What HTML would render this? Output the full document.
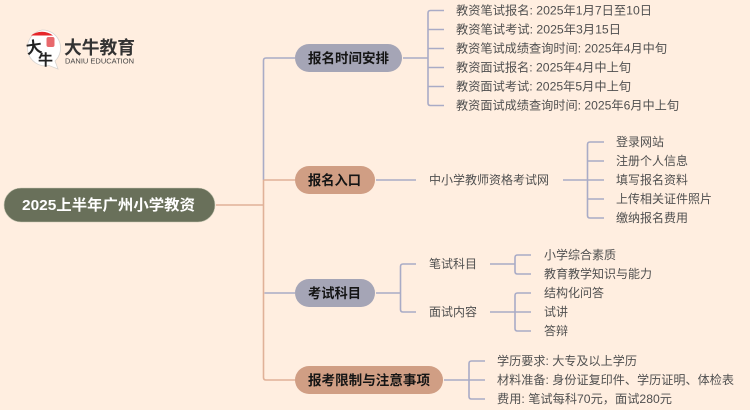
<!DOCTYPE html>
<html lang="zh">
<head>
<meta charset="utf-8">
<title>2025上半年广州小学教资</title>
<style>
html,body{margin:0;padding:0;background:#ffeee0;width:750px;height:410px;overflow:hidden}
svg{display:block;filter:blur(0.3px)}
text{font-family:"Liberation Sans","Noto Sans CJK SC",sans-serif}
.t{font-size:12px;fill:#505050}
.b{font-size:13.5px;font-weight:700;fill:#151515}
.g{fill:none;stroke:#a9abc6;stroke-width:1.6}
.o{fill:none;stroke:#e0b198;stroke-width:1.6}
</style>
</head>
<body>
<svg width="750" height="410" viewBox="0 0 750 410" xmlns="http://www.w3.org/2000/svg">
<rect width="750" height="410" fill="#ffeee0"/>

<!-- trunk -->
<path class="g" d="M295 58H266Q263.500 58 263.500 60.500V180"/>
<path class="o" d="M216 205H263.500M295 180H263.500M263.500 180V377.500Q263.500 380 266 380H295"/>
<path class="g" d="M295 293H264.500"/>

<!-- root -->
<rect x="4" y="188" width="211" height="34" rx="17" fill="#69705a" stroke="#c9c8b4" stroke-width="0.6"/>
<text x="22" y="210" font-size="15" font-weight="700" fill="#fff" textLength="173" lengthAdjust="spacingAndGlyphs">2025上半年广州小学教资</text>

<!-- branch nodes -->
<rect x="295" y="44" width="107" height="28" rx="14" fill="#a5a5b6"/>
<text class="b" x="308" y="63" textLength="81" lengthAdjust="spacingAndGlyphs">报名时间安排</text>
<rect x="295" y="166" width="80" height="28" rx="14" fill="#d09e84"/>
<text class="b" x="308" y="185" textLength="53" lengthAdjust="spacingAndGlyphs">报名入口</text>
<rect x="295" y="279" width="80" height="28" rx="14" fill="#a5a5b6"/>
<text class="b" x="308" y="298" textLength="53" lengthAdjust="spacingAndGlyphs">考试科目</text>
<rect x="295" y="366" width="148" height="28" rx="14" fill="#d09e84"/>
<text class="b" x="308" y="385" textLength="122" lengthAdjust="spacingAndGlyphs">报考限制与注意事项</text>

<!-- group 1 connectors -->
<path class="g" d="M403 58H428M444 10.500H430.500Q428 10.500 428 13V103Q428 105.500 430.500 105.500H444M428 29.500H444M428 48.500H444M428 67.500H444M428 86.500H444"/>
<text class="t" x="456" y="14.500" textLength="196" lengthAdjust="spacingAndGlyphs">教资笔试报名: 2025年1月7日至10日</text>
<text class="t" x="456" y="33.500" textLength="165" lengthAdjust="spacingAndGlyphs">教资笔试考试: 2025年3月15日</text>
<text class="t" x="456" y="52.500" textLength="211" lengthAdjust="spacingAndGlyphs">教资笔试成绩查询时间: 2025年4月中旬</text>
<text class="t" x="456" y="71.500" textLength="175" lengthAdjust="spacingAndGlyphs">教资面试报名: 2025年4月中上旬</text>
<text class="t" x="456" y="90.500" textLength="175" lengthAdjust="spacingAndGlyphs">教资面试考试: 2025年5月中上旬</text>
<text class="t" x="456" y="109.500" textLength="223" lengthAdjust="spacingAndGlyphs">教资面试成绩查询时间: 2025年6月中上旬</text>

<!-- group 2 connectors -->
<path class="g" d="M376 180H416M563 180H604M604 142H590Q587.500 142 587.500 144.500V215.500Q587.500 218 590 218H604M587.500 161H604M587.500 199H604"/>
<text class="t" x="429" y="184" textLength="120" lengthAdjust="spacingAndGlyphs">中小学教师资格考试网</text>
<text class="t" x="616" y="146" textLength="48" lengthAdjust="spacingAndGlyphs">登录网站</text>
<text class="t" x="616" y="165" textLength="72" lengthAdjust="spacingAndGlyphs">注册个人信息</text>
<text class="t" x="616" y="184" textLength="72" lengthAdjust="spacingAndGlyphs">填写报名资料</text>
<text class="t" x="616" y="203" textLength="96" lengthAdjust="spacingAndGlyphs">上传相关证件照片</text>
<text class="t" x="616" y="222" textLength="72" lengthAdjust="spacingAndGlyphs">缴纳报名费用</text>

<!-- group 3 connectors -->
<path class="g" d="M376 293H400.500M416 264H403Q400.500 264 400.500 266.500V309.500Q400.500 312 403 312H416"/>
<text class="t" x="429" y="268" textLength="48" lengthAdjust="spacingAndGlyphs">笔试科目</text>
<text class="t" x="429" y="316" textLength="48" lengthAdjust="spacingAndGlyphs">面试内容</text>
<path class="g" d="M490 264H515M531 255H517.500Q515 255 515 257.500V271.500Q515 274 517.500 274H531"/>
<text class="t" x="544" y="259" textLength="72" lengthAdjust="spacingAndGlyphs">小学综合素质</text>
<text class="t" x="544" y="278" textLength="108" lengthAdjust="spacingAndGlyphs">教育教学知识与能力</text>
<path class="g" d="M490 312H531M531 293H517.500Q515 293 515 295.500V328.500Q515 331 517.500 331H531"/>
<text class="t" x="544" y="297" textLength="60" lengthAdjust="spacingAndGlyphs">结构化问答</text>
<text class="t" x="544" y="316" textLength="24" lengthAdjust="spacingAndGlyphs">试讲</text>
<text class="t" x="544" y="335" textLength="24" lengthAdjust="spacingAndGlyphs">答辩</text>

<!-- group 4 connectors -->
<path class="g" d="M444 380H485M485 361H471.500Q469 361 469 363.500V396.500Q469 399 471.500 399H485"/>
<text class="t" x="497" y="365" textLength="140" lengthAdjust="spacingAndGlyphs">学历要求: 大专及以上学历</text>
<text class="t" x="497" y="384" textLength="237" lengthAdjust="spacingAndGlyphs">材料准备: 身份证复印件、学历证明、体检表</text>
<text class="t" x="497" y="403" textLength="175" lengthAdjust="spacingAndGlyphs">费用: 笔试每科70元，面试280元</text>

<!-- logo -->
<path d="M42 30A18 18 0 0 1 55 61L58 69L49 65.500A18 18 0 1 1 42 30Z" fill="#fff" stroke="#d8d4d0" stroke-width="0.8"/>
<path d="M31 35.500A18 18 0 0 1 53 35.500Z" fill="#e6262a"/>
<rect x="46.500" y="37" width="8" height="10" rx="2" fill="#e8686c"/>
<text x="26" y="53" font-size="16" font-weight="700" fill="#222" transform="rotate(-8 34 47)">大</text>
<text x="38" y="65" font-size="15" font-weight="700" fill="#222">牛</text>
<text x="64" y="54" font-size="18" font-weight="700" fill="#333" textLength="71" lengthAdjust="spacingAndGlyphs">大牛教育</text>
<text x="65" y="63.500" font-size="7.500" fill="#444" textLength="69" lengthAdjust="spacingAndGlyphs">DANIU EDUCATION</text>
</svg>
</body>
</html>
